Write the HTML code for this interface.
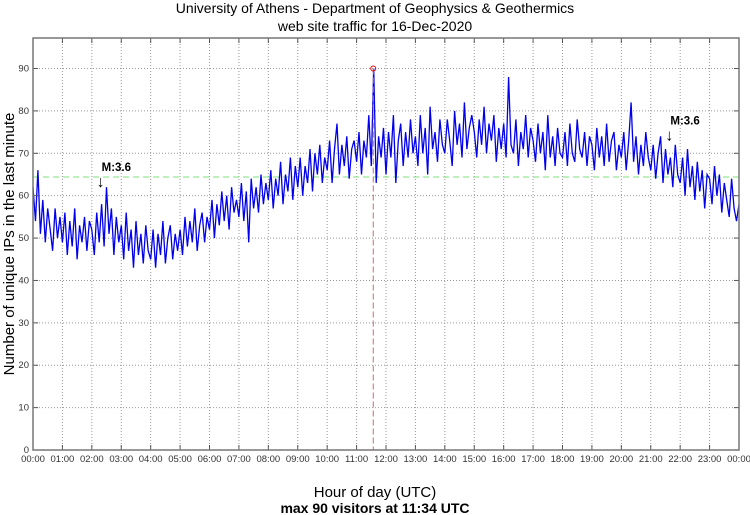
<!DOCTYPE html>
<html><head><meta charset="utf-8"><style>
body{margin:0;background:#fff;}
svg{display:block;font-family:"Liberation Sans",sans-serif;}
</style></head><body>
<svg id="chart" width="750" height="515">
<text x="375" y="13" text-anchor="middle" font-size="14" fill="#000">University of Athens - Department of Geophysics &amp; Geothermics</text>
<text x="375" y="31" text-anchor="middle" font-size="14" fill="#000">web site traffic for 16-Dec-2020</text>
<text x="375" y="497" text-anchor="middle" font-size="15" fill="#000">Hour of day (UTC)</text>
<text x="375" y="513" text-anchor="middle" font-size="14" font-weight="bold" fill="#000">max 90 visitors at 11:34 UTC</text>
<text transform="translate(14,244) rotate(-90)" text-anchor="middle" font-size="15" fill="#000">Number of unique IPs in the last minute</text>
<g id="grid"></g><g id="series"></g><g id="axes"></g>
</svg>
<script>
const hourLabels=["00:00","01:00","02:00","03:00","04:00","05:00","06:00","07:00","08:00","09:00","10:00","11:00","12:00","13:00","14:00","15:00","16:00","17:00","18:00","19:00","20:00","21:00","22:00","23:00","00:00"];
const yTicks=[0,10,20,30,40,50,60,70,80,90];
const visitors=[
62,54,66,51,59,49,57,52,47,57,50,55,
49,56,46,54,48,57,45,53,49,55,47,54,
52,46,56,49,58,48,62,51,57,46,55,49,
53,45,56,47,52,43,54,46,51,44,53,47,
45,52,43,51,46,54,44,50,53,45,51,47,
52,46,55,48,54,49,57,47,53,56,49,55,
52,59,50,58,53,61,54,60,52,62,56,59,
55,63,54,61,49,64,57,62,56,65,58,63,
59,66,57,64,60,68,58,65,61,69,59,67,
62,69,60,67,63,71,61,70,65,72,63,69,
66,73,63,71,77,65,72,67,74,64,71,73,
68,75,65,73,69,79,67,90,63,74,69,76,
65,75,69,79,63,73,77,67,75,69,78,70,
74,67,79,70,76,65,81,71,75,68,78,72,
70,78,73,67,80,72,77,69,82,71,76,79,
75,69,78,72,81,70,77,73,79,68,76,71,
77,69,88,72,70,78,67,75,71,79,69,76,
73,68,77,70,75,66,79,69,74,67,76,70,
69,75,67,77,70,68,78,71,69,75,67,74,
72,66,76,69,74,67,77,68,73,75,66,72,
69,75,66,73,82,68,74,65,72,67,75,69,
66,72,64,70,74,63,71,65,69,62,72,65,
63,69,60,71,62,67,59,68,61,66,57,65,
64,58,67,60,65,56,63,59,55,64,57,54,58];
const stepMinutes=[5];
const meanLevel=[64.4];
const maxPoint=[11*60+34,90];
const quakeMarkers=[[140,"M:3.6",62],[1300,"M:3.6",73]];

const L=33,R=739,T=38,B=450,YMAX=97.2;
const xs=m=>L+(R-L)*m/1440;
const ys=v=>B-(B-T)*v/YMAX;
const NS="http://www.w3.org/2000/svg";
function mk(tag,attrs,parent){const e=document.createElementNS(NS,tag);for(const k in attrs)e.setAttribute(k,attrs[k]);parent.appendChild(e);return e;}
const grid=document.getElementById('grid'),axes=document.getElementById('axes'),series=document.getElementById('series');
hourLabels.forEach((h,i)=>{const x=xs(i*60);
 if(i>0&&i<24){const g=mk('line',{x1:x,x2:x,y1:T,y2:B,stroke:'#999','stroke-width':1,'stroke-dasharray':'1,2'},grid);
 
 
 mk('line',{x1:x,x2:x,y1:B,y2:B-5,stroke:'#555','stroke-width':1},axes);
 mk('line',{x1:x,x2:x,y1:T,y2:T+5,stroke:'#555','stroke-width':1},axes);}
 const t=mk('text',{x:x,y:B+12,'text-anchor':'middle','font-size':9.5,fill:'#333'},axes);t.textContent=h;
 
 
});
yTicks.forEach(v=>{const y=ys(v);
 if(v>0){const g=mk('line',{x1:L,x2:R,y1:y,y2:y,stroke:'#999','stroke-width':1,'stroke-dasharray':'1,2'},grid);
 
 
 mk('line',{x1:L,x2:L+5,y1:y,y2:y,stroke:'#555'},axes);mk('line',{x1:R,x2:R-5,y1:y,y2:y,stroke:'#555'},axes);}
 const t=mk('text',{x:L-4,y:y+3,'text-anchor':'end','font-size':9.5,fill:'#333'},axes);t.textContent=v;
 
 
});
const fr=mk('rect',{x:L,y:T,width:R-L,height:B-T,fill:'none',stroke:'#777','stroke-width':1.5},axes);


const ml=mk('line',{x1:L,x2:R,y1:ys(meanLevel[0]),y2:ys(meanLevel[0]),stroke:'#7ee07e','stroke-width':1,'stroke-dasharray':'6,4'},series);


const p=visitors.map((v,i)=>xs(i*stepMinutes[0]).toFixed(1)+','+ys(v).toFixed(1)).join(' ');
const pl=mk('polyline',{points:p,fill:'none',stroke:'#0000ee','stroke-width':1.3},series);


const vl=mk('line',{x1:xs(maxPoint[0]),x2:xs(maxPoint[0]),y1:ys(maxPoint[1]),y2:B,stroke:'#c07070','stroke-width':1,'stroke-dasharray':'6,3'},series);


const mc=mk('circle',{cx:xs(maxPoint[0]),cy:ys(maxPoint[1]),r:2.5,fill:'none',stroke:'#e00','stroke-width':1},series);


quakeMarkers.forEach(q=>{const x=xs(q[0]),y=ys(q[2]);
 const t=mk('text',{x:x,y:y-16,'font-size':11.5,'font-weight':'bold',fill:'#000'},series);t.textContent=q[1];
 
 
 const a=mk('text',{x:x-5,y:y,'font-size':16,fill:'#000'},series);a.textContent='↓';
 
 
});
</script>
</body></html>
